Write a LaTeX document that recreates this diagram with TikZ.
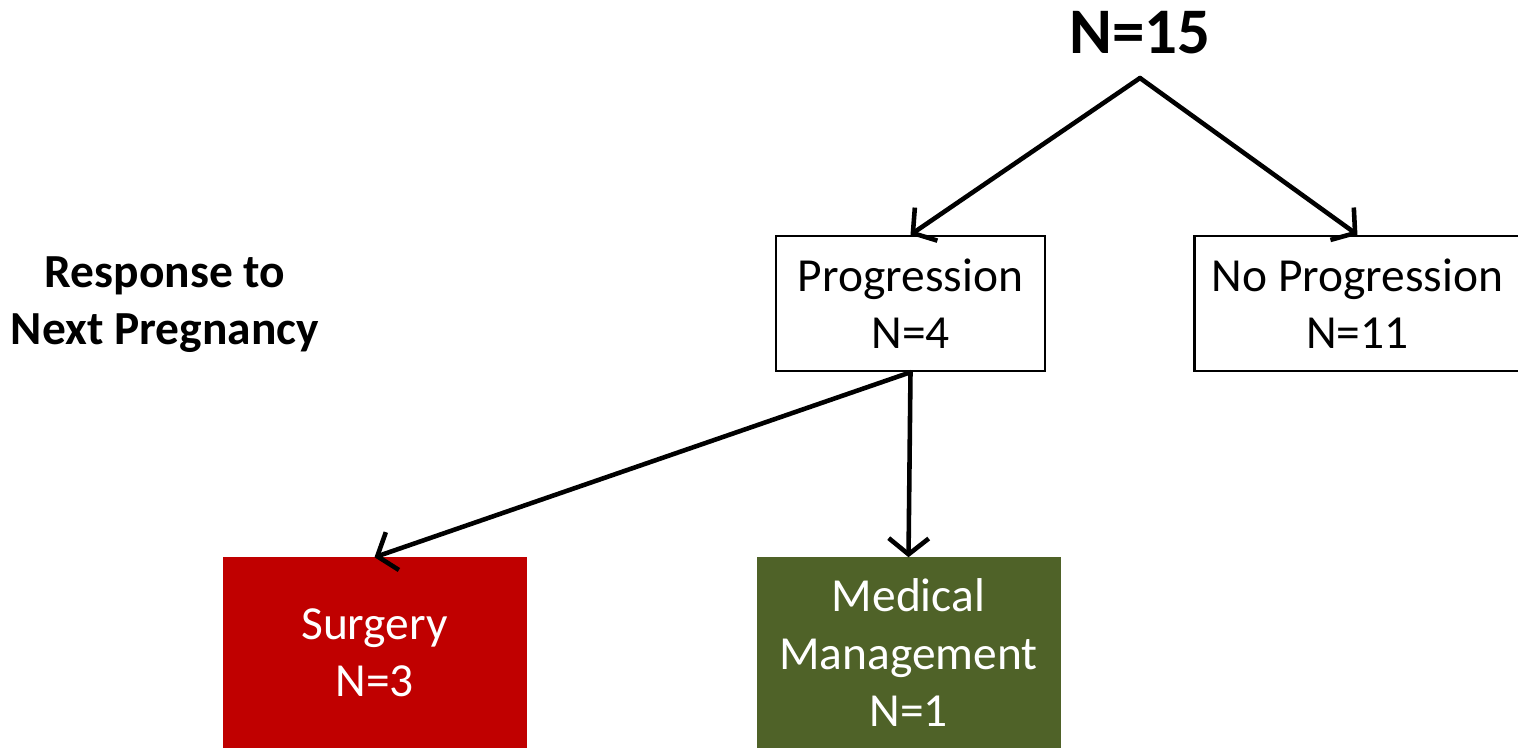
\documentclass[tikz,border=0pt]{standalone}
\usepackage{fontspec}
\setmainfont{Carlito}
\usepackage{xcolor}
\definecolor{colorSurgery}{HTML}{C00000}
\definecolor{colorMedical}{HTML}{4F6228}
\usetikzlibrary{arrows.meta, positioning}
\tikzset{
  plainbox/.style={draw=black, line width=0.7pt, minimum height=1.35cm, inner sep=0pt, align=center, font=\fontsize{13.5}{16.4}\selectfont},
  fillbox/.style={text=white, minimum width=3.04cm, minimum height=1.91cm, inner sep=0pt, outer sep=0pt, align=center, font=\fontsize{13.5}{16.4}\selectfont},
  boldlabel/.style={inner sep=0pt, align=center, font=\bfseries\fontsize{13.5}{16.2}\selectfont},
}

\begin{document}
\begin{tikzpicture}[>={Straight Barb[length=1.6mm,width=4mm]}, line width=1.3pt, line cap=round]
\useasboundingbox (0,0) rectangle (15.18,-7.49);
\node[boldlabel, font=\bfseries\fontsize{18.5}{21}\selectfont] (total) at (11.40,-0.33) {N=15};
\coordinate (split) at (11.40,-0.78);
\node[plainbox, minimum width=2.69cm] (prog) at (9.105,-3.035) {Progression\\N=4};
\node[plainbox, minimum width=3.26cm, right=1.47cm of prog] (noprog) {No Progression\\N=11};
\node[fillbox, fill=colorMedical, below=1.85cm of prog, xshift=-0.02cm] (medical) {Medical\\Management\\N=1};
\node[fillbox, fill=colorSurgery, left=2.30cm of medical] (surgery) {Surgery\\N=3};
\node[boldlabel] (response) at (1.65,-3.05) {Response to\\Next Pregnancy};
\draw (split) edge [->] (prog.north);
\draw (split) edge [->] (noprog.north);
\draw (prog.south) edge [->] (surgery.north);
\draw (prog.south) edge [->] (medical.north);
\end{tikzpicture}
\end{document}
